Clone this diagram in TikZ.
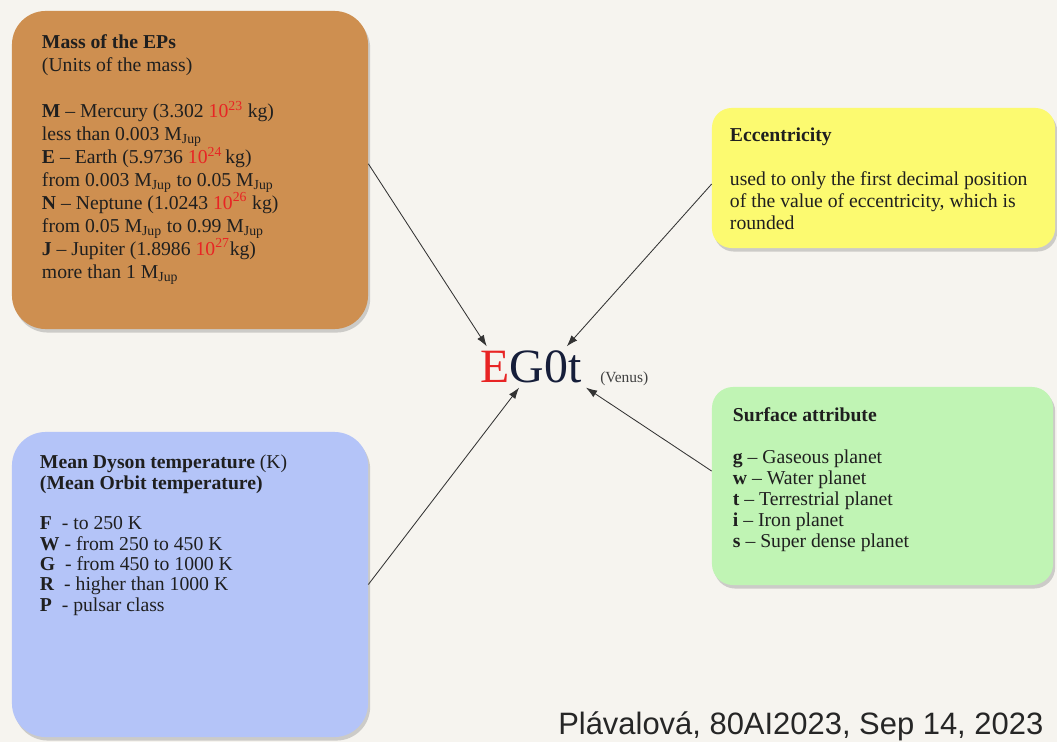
\documentclass[tikz,border=0pt]{standalone}
\usepackage{fontspec}
\setmainfont{Liberation Serif}
\newfontfamily\creditfont{Liberation Sans}
\usetikzlibrary{positioning,shadows,arrows.meta}

\definecolor{paper}{RGB}{246,244,239}
\definecolor{massbox}{RGB}{206,143,80}
\definecolor{eccbox}{RGB}{252,250,112}
\definecolor{surfbox}{RGB}{192,244,180}
\definecolor{tempbox}{RGB}{180,196,248}
\definecolor{redexp}{RGB}{232,36,36}
\definecolor{codeink}{RGB}{22,30,58}
\newcommand{\ex}[1]{\textcolor{redexp}{10\textsuperscript{#1}}}
\newcommand{\Mj}{M\textsubscript{Jup}}

\begin{document}
\begin{tikzpicture}[x=0.025cm,y=-0.025cm,
  card/.style={inner sep=0pt, drop shadow={shadow xshift=1.5pt,shadow yshift=-2.5pt,opacity=0.35}},
  cardtext/.style={anchor=north west, align=left, inner sep=0pt, text=black!88, font=\fontsize{14}{#1}\selectfont},
  link/.style={-{Latex[length=8pt,width=5.5pt]}, line width=0.6pt, draw=black!80}]

\useasboundingbox (0,0) rectangle (1057,742) ;
\fill[paper] (0,0) rectangle (1057,742) ;

% the four boxes
\node[card, fill=massbox, rounded corners=24pt, minimum width=8.9cm, minimum height=7.95cm] (mass) at (190,170) {} ;
\node[card, fill=eccbox, rounded corners=14pt, minimum width=8.575cm, minimum height=3.5cm] (ecc) at (883.5,178) {} ;
\node[card, fill=surfbox, rounded corners=15pt, minimum width=8.525cm, minimum height=4.95cm] (surf) at (882.5,486) {} ;
\node[card, fill=tempbox, rounded corners=24pt, minimum width=8.9cm, minimum height=7.625cm] (temp) at (190,584.5) {} ;

\node[cardtext=16.3] (massT) at ([shift={(30,24)}]mass.north west) {\textbf{Mass of the EPs}\\
(Units of the mass)\\[\baselineskip]
\textbf{M} -- Mercury (3.302 \ex{23} kg)\\
less than 0.003 \Mj\\
\textbf{E} -- Earth (5.9736 \ex{24}\,kg)\\
from 0.003 \Mj{} to 0.05 \Mj\\
\textbf{N} -- Neptune (1.0243 \ex{26} kg)\\
from 0.05 \Mj{} to 0.99 \Mj\\
\textbf{J} -- Jupiter (1.8986 \ex{27}kg)\\
more than 1 \Mj} ;

\node[cardtext=15.6] (eccT) at ([shift={(18,20)}]ecc.north west) {\textbf{Eccentricity}\\[\baselineskip]
used to only the first decimal position\\
of the value of eccentricity, which is\\
rounded} ;

\node[cardtext=14.9] (surfT) at ([shift={(21,21)}]surf.north west) {\textbf{Surface attribute}\\[\baselineskip]
\textbf{g} -- Gaseous planet\\
\textbf{w} -- Water planet\\
\textbf{t} -- Terrestrial planet\\
\textbf{i} -- Iron planet\\
\textbf{s} -- Super dense planet} ;

\node[cardtext=14.5] (tempT) at ([shift={(28,23)}]temp.north west) {\textbf{Mean Dyson temperature }(K)\\
\textbf{(Mean Orbit temperature)}\\[\baselineskip]
\textbf{F}\ \ - to 250 K\\
\textbf{W} - from 250 to 450 K\\
\textbf{G}\ \ - from 450 to 1000 K\\
\textbf{R}\ \ - higher than 1000 K\\
\textbf{P}\ \ - pulsar class} ;

% the code in the middle
\node[inner sep=3pt, text=codeink, font=\fontsize{34}{40}\selectfont] (code) at (531,367) {\textcolor{redexp}{E}G0t} ;
\node[base right=0.35cm of code, inner sep=0pt, text=black!75, font=\fontsize{11}{13}\selectfont] (venus) {(Venus)} ;

\draw[link] (mass.2) -- (code.155) ;
\draw[link] (ecc.182) -- (code.30) ;
\draw[link] (temp.east) -- (code.240) ;
\draw[link] (surf.175) -- (code.south east) ;

\node[anchor=base west, inner sep=0pt, text=black!85, font=\creditfont\fontsize{22}{26}\selectfont] (credit) at (558,734) {Plávalová, 80AI2023, Sep 14, 2023} ;

\end{tikzpicture}
\end{document}
